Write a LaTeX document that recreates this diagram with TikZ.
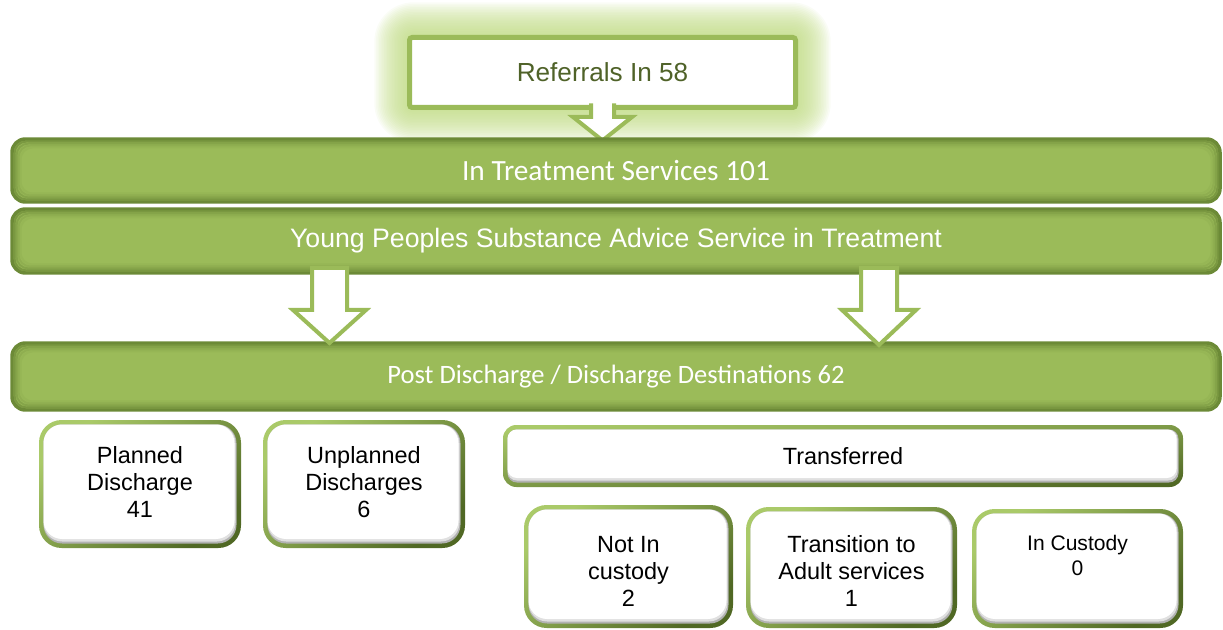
\documentclass[tikz,border=0pt]{standalone}
\usepackage{fontspec}
\setmainfont{Liberation Sans}
\newfontfamily\calibri{Carlito}
\usetikzlibrary{calc}

\definecolor{barfill}{RGB}{155,187,89}
\definecolor{barrim}{RGB}{108,138,55}
\definecolor{glowgreen}{RGB}{190,218,128}
\definecolor{reftext}{RGB}{79,98,40}
\definecolor{rimlight}{RGB}{170,202,105}
\definecolor{rimdark}{RGB}{80,104,36}

\tikzset{
	wh/.style 2 args={minimum width=#1*0.75pt, minimum height=#2*0.75pt, inner sep=0pt, outer sep=0pt},
	bar/.style={draw=barrim, fill=barfill, line width=2.6pt, rounded corners=10pt, text=white},
	whitebox/.style={top color=rimlight, bottom color=rimdark, shading angle=40, rounded corners=17pt},
	boxtext/.style={align=center, inner sep=0pt, font=\fontsize{17.6}{20.3}\selectfont},
	hollowarrow/.style={draw=barfill, fill=white, line width=3pt, line join=miter},
}
\tikzset{every picture/.style={line width=0.75pt}}

\begin{document}
\begin{tikzpicture}[x=0.75pt,y=0.75pt,yscale=-1,xscale=1]
	\useasboundingbox (0,0) rectangle (1223,630);

	% soft glow round the referrals box
	\foreach \g [evaluate=\g as \r using 3+1.2*\g] in {1,...,22}
		\fill [glowgreen, opacity=0.07, rounded corners=\r pt] (409.5-1.6*\g,37.5-1.6*\g) rectangle (795.5+1.6*\g,107.5+1.6*\g);

	% Referrals box
	\node [draw=barfill, fill=white, line width=3.75pt, rounded corners=2pt, wh={386}{70}, text=reftext,
		font=\fontsize{19.6}{23}\selectfont] (ref) at (602.5,72.5) {Referrals In 58};
	% arrow out of it, open at the top
	\draw [hollowarrow] ($(ref.south)+(-11.5,-4)$) -- ($(ref.south)+(-11.5,9.5)$) -- ++(-18,0)
		-- ($(ref.south)+(0,33)$) -- ($(ref.south)+(29.5,9.5)$) -- ++(-18,0) -- ($(ref.south)+(11.5,-4)$);

	% green bars
	\node [bar, wh={1208}{63}] (treat) at (616,170.5) {};
	\node [bar, wh={1208}{64}] (yp) at (616,241) {};
	\node [bar, wh={1208}{67}] (post) at (616,376.5) {};
	% inner shadow of the bars
	\foreach \b in {treat,yp,post}
		\foreach \d/\o in {2.5/0.7,4.5/0.45,6.5/0.25,8.5/0.1}
			\draw [barrim, opacity=\o, line width=1.5pt, rounded corners=9pt] ($(\b.north west)+(\d,\d)$) rectangle ($(\b.south east)+(-\d,-\d)$);
	% Text Node
	\node [text=white, font=\calibri\fontsize{22}{26}\selectfont] (treattxt) at (treat) {In Treatment Services 101};
	% Text Node
	\node [text=white, font=\fontsize{20}{24}\selectfont] (yptxt) at (yp) {Young Peoples Substance Advice Service in Treatment};
	% Text Node
	\node [text=white, font=\calibri\fontsize{19.9}{24}\selectfont] (posttxt) at (post) {Post Discharge / Discharge Destinations 62};

	% block arrows between the bars
	\coordinate (la) at (329.5,0);
	\coordinate (rb) at (879,0);
	\draw [hollowarrow] ($(yp.south -| la)+(-17.5,-5)$) -- ($(post.north -| la)+(-17.5,-33)$) -- ++(-19,0)
		-- (post.north -| la) -- ($(post.north -| la)+(36.5,-33)$) -- ++(-19,0) -- ($(yp.south -| la)+(17.5,-5)$) -- cycle;
	\draw [hollowarrow] ($(yp.south -| rb)+(-18,-5)$) -- ($(post.north -| rb)+(-18,-33)$) -- ++(-19,0)
		-- ($(post.north -| rb)+(0,2)$) -- ($(post.north -| rb)+(37,-33)$) -- ++(-19,0) -- ($(yp.south -| rb)+(18,-5)$) -- cycle;

	% discharge boxes
	\node [whitebox, wh={202}{128}] (planned) at (140,484) {};
	\node [whitebox, wh={202}{128}] (unplanned) at (364,484) {};
	\node [whitebox, wh={680}{62}, rounded corners=10pt, shading angle=5] (trans) at (843,456) {};
	\node [whitebox, wh={209}{123}] (notin) at (628.5,566.5) {};
	\node [whitebox, wh={211}{121}] (adult) at (851.5,567.5) {};
	\node [whitebox, wh={211}{119}] (incust) at (1077.5,568.5) {};
	% white inside with a soft shadow at the bottom
	\foreach \n/\r in {planned/14pt,unplanned/14pt,trans/7pt,notin/14pt,adult/14pt,incust/14pt}{
		\fill [black!30, rounded corners=\r] ($(\n.north west)+(4.5,4.5)$) rectangle ($(\n.south east)+(-4.5,-4.5)$);
		\fill [black!12, rounded corners=\r] ($(\n.north west)+(4.5,4.5)$) rectangle ($(\n.south east)+(-5.5,-6.5)$);
		\fill [white, rounded corners=\r] ($(\n.north west)+(4.5,4.5)$) rectangle ($(\n.south east)+(-6.5,-9)$);
	}
	% Text Node
	\node [boxtext] (plannedtxt) at (140,482) {Planned\\Discharge\\41};
	% Text Node
	\node [boxtext] (unplannedtxt) at (364,482) {Unplanned\\Discharges\\6};
	% Text Node
	\node [boxtext] (transtxt) at (843,456) {Transferred};
	% Text Node
	\node [boxtext] (notintxt) at (628.5,571) {Not In\\custody\\2};
	% Text Node
	\node [boxtext] (adulttxt) at (851.5,571) {Transition to\\Adult services\\1};
	% Text Node
	\node [boxtext, font=\fontsize{15.8}{18.75}\selectfont] (incusttxt) at (1077.5,555.5) {In Custody\\0};

\end{tikzpicture}
\end{document}
